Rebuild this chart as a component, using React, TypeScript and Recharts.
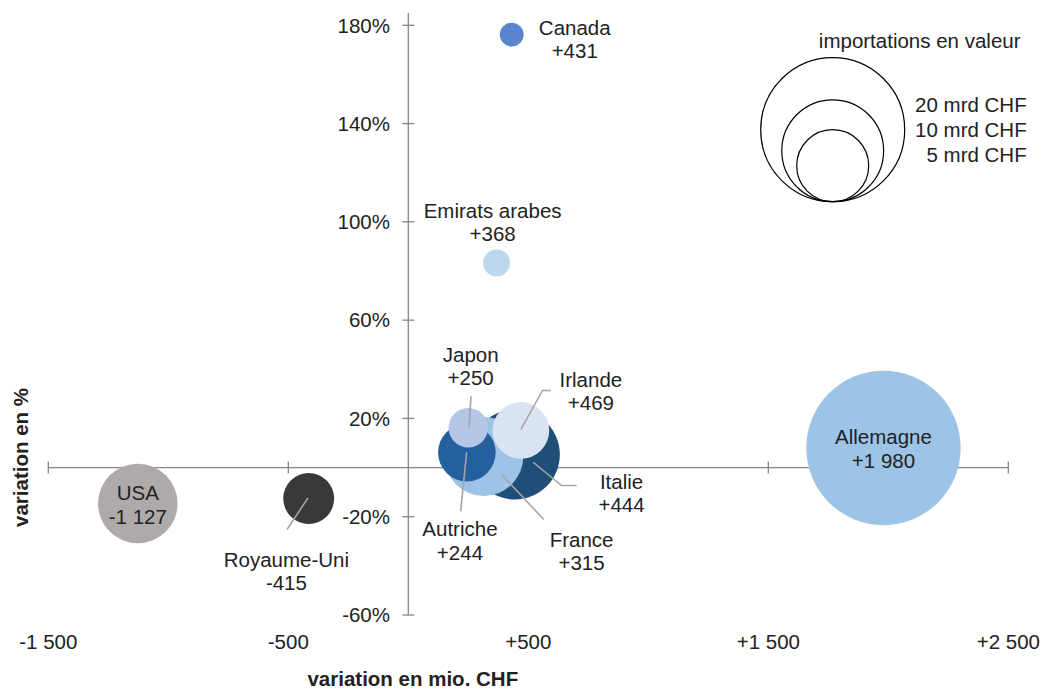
import React from "react";
import {
  ScatterChart,
  Scatter,
  XAxis,
  YAxis,
  ZAxis,
  ReferenceLine,
  Customized,
} from "recharts";

// pays, dans l'ordre de dessin (arrière -> avant)
const countries = [
  "Italie",
  "France",
  "Autriche",
  "Japon",
  "Irlande",
  "Allemagne",
  "USA",
  "Royaume-Uni",
  "Canada",
  "Emirats arabes",
];
// variation en mio. CHF
const changeMio = [444, 315, 244, 250, 469, 1980, -1127, -415, 431, 368];
// variation en %
const changePct = [5.3, 4.5, 6.1, 16.2, 15.1, 8, -14.6, -12.6, 176.2, 83.3];
// importations en valeur, mrd CHF (taille des bulles)
const importsMrd = [7.8, 6.0, 3.2, 1.5, 3.1, 23.0, 6.1, 2.5, 0.55, 0.7];

const xTicks = [-1500, -500, 500, 1500, 2500];
const yTicks = [-60, -20, 20, 60, 100, 140, 180];
const legendSizes = [20, 10, 5];

const FONT = "'Liberation Sans', Arial, sans-serif";
const TEXT = "#222222";
const AXIS = "#868686";
const FS = 20.5;
const LINE_H = 23.5;
// surface (px²) par mrd CHF -> 20 mrd = rayon 72px
const AREA_PER_MRD = (Math.PI * 72 * 72) / 20;

const colors: Record<string, string> = {
  Italie: "#1F4E79",
  France: "#9DC3E6",
  Autriche: "#245F9E",
  Japon: "#B4C7E7",
  Irlande: "#DAE3F3",
  Allemagne: "#9DC3E6",
  USA: "#AEAAAA",
  "Royaume-Uni": "#3B3838",
  Canada: "#5A86D0",
  "Emirats arabes": "#BDD7EE",
};

// position des étiquettes (centre de la 1re ligne) et lignes de rappel, relatives au centre de la bulle
const labelPos: Record<string, { dx: number; dy: number; leader?: number[][] }> = {
  Canada: { dx: 63, dy: -7 },
  "Emirats arabes": { dx: -4, dy: -52.6 },
  Japon: { dx: 2.4, dy: -73.3, leader: [[2.7, -31.6], [0.7, 0]] },
  Irlande: { dx: 70, dy: -51, leader: [[30, -40], [21.7, -40], [0, -1]] },
  Italie: { dx: 106.7, dy: 26.7, leader: [[61.7, 31], [46.7, 31], [18.3, 7.7]] },
  France: { dx: 97.7, dy: 83, leader: [[60, 63], [17.7, 18]] },
  Autriche: { dx: -6.9, dy: 76.3, leader: [[-6.2, 58.7], [-0.2, -0.3]] },
  "Royaume-Uni": { dx: -22.3, dy: 61, leader: [[-21.7, 31], [-0.7, -0.7]] },
  USA: { dx: 0, dy: -10.7 },
  Allemagne: { dx: 0, dy: -11 },
};

const data = countries.map((name, i) => ({
  name,
  x: changeMio[i],
  y: changePct[i],
  z: importsMrd[i],
}));

const fmtMio = (v: number) => {
  const sign = v > 0 ? "+" : v < 0 ? "-" : "";
  return sign + String(Math.abs(v)).replace(/\B(?=(\d{3})+(?!\d))/g, " ");
};
const fmtPct = (v: number) => `${v}%`;

const Bubble = (p: any) => {
  const r = p.width ? p.width / 2 : Math.sqrt((p.size ?? 0) / Math.PI);
  return <circle cx={p.cx} cy={p.cy} r={r} fill={colors[p.payload.name]} />;
};

const BubbleLabel = (p: any) => {
  const name = p.payload.name;
  const pos = labelPos[name];
  const { cx, cy } = p;
  const lines = [name, fmtMio(p.payload.x)];
  return (
    <g>
      {pos.leader && (
        <polyline
          points={pos.leader.map(([a, b]) => `${cx + a},${cy + b}`).join(" ")}
          fill="none"
          stroke="#A6A6A6"
          strokeWidth={1.6}
        />
      )}
      {lines.map((t, i) => (
        <text
          key={i}
          x={cx + pos.dx}
          y={cy + pos.dy + i * LINE_H + 7.3}
          textAnchor="middle"
          fontFamily={FONT}
          fontSize={FS}
          fill={TEXT}
        >
          {t}
        </text>
      ))}
    </g>
  );
};

// titres des axes et légende des tailles
const Extras = () => (
  <g fontFamily={FONT} fill={TEXT} fontSize={FS}>
    <text x={412.8} y={686} textAnchor="middle" fontWeight="bold">
      variation en mio. CHF
    </text>
    <text transform="translate(28,457.5) rotate(-90)" textAnchor="middle" fontWeight="bold">
      variation en %
    </text>
    <text x={919.7} y={48.3} textAnchor="middle">
      importations en valeur
    </text>
    {legendSizes.map((v) => {
      const r = Math.sqrt((v * AREA_PER_MRD) / Math.PI);
      return (
        <circle key={v} cx={832.7} cy={201.7 - r} r={r} fill="none" stroke="#000" strokeWidth={1.2} />
      );
    })}
    {legendSizes.map((v, i) => (
      <text key={v} x={1026.7} y={111.7 + i * 25} textAnchor="end">
        {v} mrd CHF
      </text>
    ))}
  </g>
);

export default function App() {
  return (
    <>
      <style>{"body{margin:0}"}</style>
      <ScatterChart width={1043} height={690} margin={{ top: 13, right: 34.7, bottom: 0, left: 48.3 }}>
        <XAxis
          type="number"
          dataKey="x"
          domain={[-1500, 2500]}
          ticks={xTicks}
          interval={0}
          tickFormatter={fmtMio}
          axisLine={false}
          tickLine={false}
          tickSize={8}
          tickMargin={11.4}
          height={75}
          tick={{ fontSize: FS, fill: TEXT, fontFamily: FONT }}
        />
        <YAxis type="number" dataKey="y" domain={[-60, 185]} hide />
        <ZAxis type="number" dataKey="z" domain={[0, 25]} range={[0, 25 * AREA_PER_MRD]} />

        <ReferenceLine y={0} stroke={AXIS} strokeWidth={1.3} />
        <ReferenceLine x={0} stroke={AXIS} strokeWidth={1.3} />
        {xTicks.map((t) => (
          <ReferenceLine
            key={`xt${t}`}
            segment={[
              { x: t, y: -2.44 },
              { x: t, y: 2.44 },
            ]}
            stroke={AXIS}
            strokeWidth={1.3}
          />
        ))}
        {yTicks.map((t) => (
          <ReferenceLine
            key={`yt${t}`}
            segment={[
              { x: -25, y: t },
              { x: 25, y: t },
            ]}
            stroke={AXIS}
            strokeWidth={1.3}
            label={{
              value: fmtPct(t),
              position: "left",
              offset: 12.3,
              fontSize: FS,
              fill: TEXT,
              fontFamily: FONT,
            }}
          />
        ))}

        <Scatter data={data} shape={Bubble} isAnimationActive={false} />
        <Scatter data={data} shape={BubbleLabel} isAnimationActive={false} />
        <Customized component={Extras} />
      </ScatterChart>
    </>
  );
}
